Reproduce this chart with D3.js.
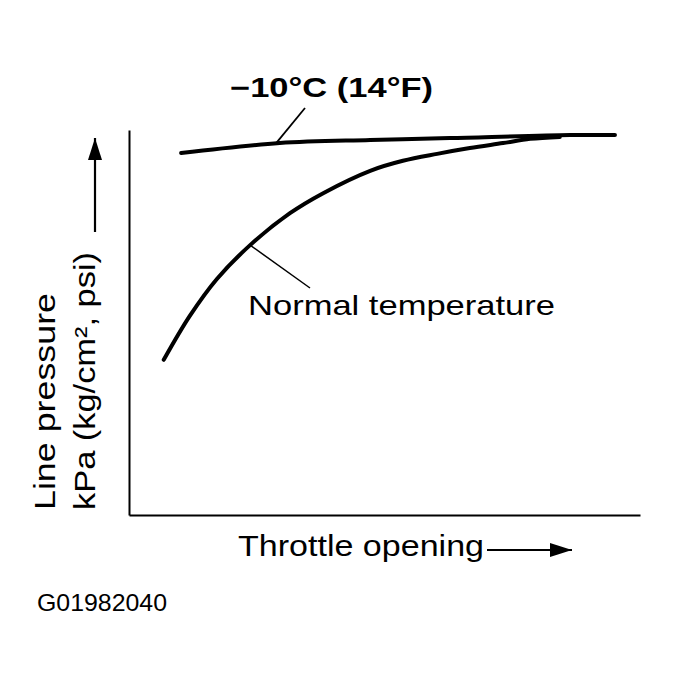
<!DOCTYPE html>
<html>
<head>
<meta charset="utf-8">
<script src="https://cdn.jsdelivr.net/npm/d3@7"></script>
<style>
  body { margin: 0; background: #fff; }
  text { font-family: "Liberation Sans", Arial, sans-serif; fill: #000; }
</style>
</head>
<body>
<script>
// throttle opening (%) and line pressure (relative, %)
var normalX = [6.8, 11.9, 17.2, 23.7, 31.5, 38.0, 47.2, 53.6, 60.3, 66.7, 73.2, 78.5, 84.3];
var normalY = [40.3, 51.7, 61.3, 70.1, 78.4, 83.6, 89.4, 92.0, 93.8, 95.3, 96.6, 97.7, 98.2];
var coldX = [10.2, 29.5, 47.2, 62.8, 86.3, 95.1];
var coldY = [94.0, 96.6, 97.4, 97.9, 98.7, 98.7];

var coldLabel = "\u221210\u00b0C (14\u00b0F)";
var normalLabel = "Normal temperature";
var xLabel = "Throttle opening";
var yLabel1 = "Line pressure";
var yLabel2 = "kPa (kg/cm\u00b2, psi)";
var figId = "G01982040";

var width = 678, height = 683;

var svg = d3.select("body")
  .append("svg")
  .attr("width", width)
  .attr("height", height);

var x = d3.scaleLinear().domain([0, 100]).range([129, 640]);
var y = d3.scaleLinear().domain([0, 100]).range([515, 130]);

// axes, no ticks
svg.append("g")
  .attr("transform", "translate(0," + y(0) + ")")
  .call(d3.axisBottom(x).tickValues([]).tickSizeOuter(0))
  .select(".domain").attr("stroke-width", 2);
svg.append("g")
  .attr("transform", "translate(" + x(0) + ",0)")
  .call(d3.axisLeft(y).tickValues([]).tickSizeOuter(0))
  .select(".domain").attr("stroke-width", 2);

var line = d3.line()
  .x(function(d) { return x(d[0]); })
  .y(function(d) { return y(d[1]); })
  .curve(d3.curveCatmullRom.alpha(0.5));

svg.append("path")
  .datum(d3.zip(coldX, coldY))
  .attr("d", line)
  .attr("fill", "none")
  .attr("stroke", "black")
  .attr("stroke-width", 4)
  .attr("stroke-linecap", "round");

svg.append("path")
  .datum(d3.zip(normalX, normalY))
  .attr("d", line)
  .attr("fill", "none")
  .attr("stroke", "black")
  .attr("stroke-width", 4)
  .attr("stroke-linecap", "round");

// leaders
svg.append("line")
  .attr("x1", x(28.8)).attr("y1", y(96.6))
  .attr("x2", 305).attr("y2", 108)
  .attr("stroke", "black").attr("stroke-width", 1.8);
svg.append("line")
  .attr("x1", x(23.7)).attr("y1", y(70.1))
  .attr("x2", 310).attr("y2", 288)
  .attr("stroke", "black").attr("stroke-width", 1.5);

svg.append("text")
  .attr("x", 230).attr("y", 97)
  .attr("font-size", 27)
  .attr("font-weight", "bold")
  .attr("textLength", 203)
  .attr("lengthAdjust", "spacingAndGlyphs")
  .text(coldLabel);

svg.append("text")
  .attr("x", 248).attr("y", 315)
  .attr("font-size", 28)
  .attr("textLength", 307)
  .attr("lengthAdjust", "spacingAndGlyphs")
  .text(normalLabel);

svg.append("text")
  .attr("x", 238).attr("y", 556)
  .attr("font-size", 29)
  .attr("textLength", 246)
  .attr("lengthAdjust", "spacingAndGlyphs")
  .text(xLabel);

// arrow markers
var defs = svg.append("defs");
defs.append("marker")
  .attr("id", "head")
  .attr("viewBox", "0 0 22 14")
  .attr("refX", 22).attr("refY", 7)
  .attr("markerUnits", "userSpaceOnUse")
  .attr("markerWidth", 22).attr("markerHeight", 14)
  .attr("orient", "auto")
  .append("path")
  .attr("d", "M0,0 L22,7 L0,14 Z")
  .attr("fill", "black");

svg.append("line")
  .attr("x1", 487).attr("y1", 550)
  .attr("x2", 572).attr("y2", 550)
  .attr("stroke", "black").attr("stroke-width", 2.2)
  .attr("marker-end", "url(#head)");

svg.append("line")
  .attr("x1", 95).attr("y1", 232)
  .attr("x2", 95).attr("y2", 138)
  .attr("stroke", "black").attr("stroke-width", 2.2)
  .attr("marker-end", "url(#head)");

svg.append("text")
  .attr("transform", "translate(55,510) rotate(-90)")
  .attr("font-size", 29)
  .attr("textLength", 217)
  .attr("lengthAdjust", "spacingAndGlyphs")
  .text(yLabel1);

svg.append("text")
  .attr("transform", "translate(95,510) rotate(-90)")
  .attr("font-size", 29)
  .attr("textLength", 258)
  .attr("lengthAdjust", "spacingAndGlyphs")
  .text(yLabel2);

svg.append("text")
  .attr("x", 37).attr("y", 611)
  .attr("font-size", 24)
  .attr("textLength", 130)
  .attr("lengthAdjust", "spacingAndGlyphs")
  .text(figId);
</script>
</body>
</html>
